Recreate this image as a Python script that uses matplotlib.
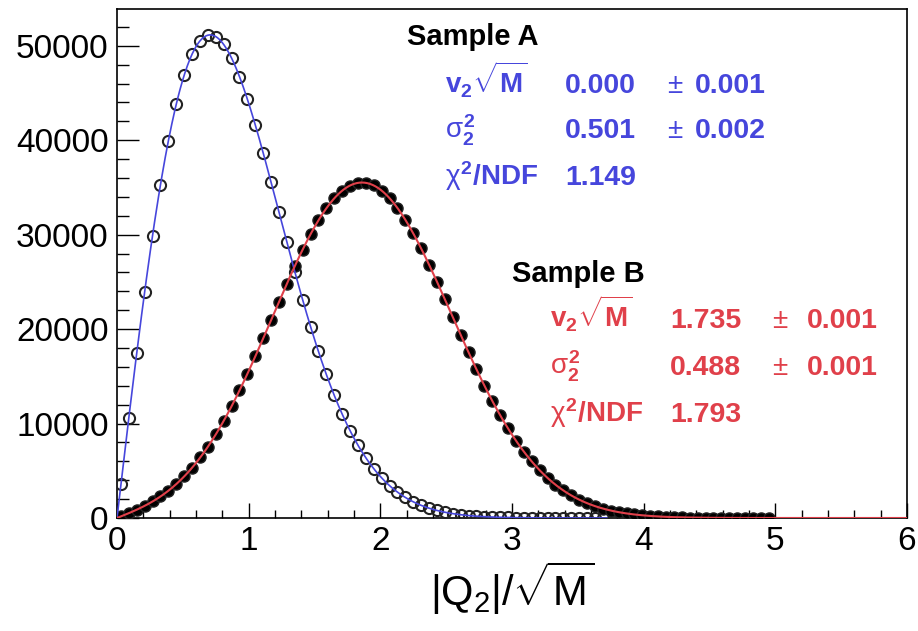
import numpy as np
import matplotlib
matplotlib.use("Agg")
import matplotlib.pyplot as plt
from matplotlib.ticker import MultipleLocator

plt.rcParams["font.family"] = ["Liberation Sans", "DejaVu Sans"]
plt.rcParams["mathtext.fontset"] = "custom"
plt.rcParams["mathtext.rm"] = "Liberation Sans"
plt.rcParams["mathtext.it"] = "Liberation Sans"
plt.rcParams["mathtext.bf"] = "Liberation Sans:bold"

# ---------------- data ----------------
bin_width = 0.06
counts_a = [3572, 10638, 17477, 23946, 29915, 35273, 39927, 43810, 46877, 49112,
            50519, 51127, 50980, 50147, 48707, 46747, 44360, 41634, 38674, 35564,
            32381, 29206, 26096, 23101, 20270, 17632, 15203, 12994, 11009, 9253,
            7713, 6374, 5226, 4249, 3429, 2744, 2177, 1714, 1340, 1038,
            799, 610, 462, 347, 259, 192, 141, 103, 74, 53,
            38, 27, 19, 13, 9, 6, 4, 3, 2, 1, 1, 1]
counts_b = [169, 514, 882, 1290, 1750, 2279, 2887, 3588, 4400, 5329,
            6408, 7557, 8877, 10307, 11838, 13512, 15257, 17105, 19016, 20935,
            22876, 24794, 26650, 28412, 30042, 31512, 32787, 33843, 34656, 35206,
            35483, 35486, 35211, 34666, 33864, 32827, 31573, 30136, 28543, 26826,
            25023, 23160, 21273, 19390, 17542, 15747, 14030, 12406, 10886, 9481,
            8195, 7031, 5985, 5058, 4241, 3530, 2916, 2390, 1945, 1571,
            1259, 1002, 791, 620, 482, 373, 285, 217, 164, 123,
            91, 67, 49, 36, 26, 19, 13, 9, 7, 5, 3, 2, 1]

# fit parameters (shown on the chart) and normalisations
fit_a = dict(norm=59700.0, v=0.000, s2=0.501, chi=1.149, ev=0.001, es2=0.002)
fit_b = dict(norm=59800.0, v=1.735, s2=0.488, chi=1.793, ev=0.001, es2=0.001)
fit_a_range = (0.0, 3.72)
fit_b_range = (0.0, 6.0)

x_ticks = [0, 1, 2, 3, 4, 5, 6]
y_ticks = [0, 10000, 20000, 30000, 40000, 50000]

blue = "#4646dc"
red = "#e0404a"


def bessel_gauss(q, norm, v, s2, **kw):
    return norm * q / s2 * np.exp(-(q ** 2 + v ** 2) / (2 * s2)) * np.i0(q * v / s2)


W, H = 918, 631
fig = plt.figure(figsize=(W / 100, H / 100), dpi=100)
ax = fig.add_axes([117 / W, 1 - 518 / H, (907 - 117) / W, (518 - 9) / H])

xa = (np.arange(len(counts_a)) + 0.5) * bin_width
xb = (np.arange(len(counts_b)) + 0.5) * bin_width

ax.plot(xa, counts_a, ls="none", marker="o", ms=8, mfc="none", mec="#222222",
        mew=1.5, zorder=3)
ax.plot(xb, counts_b, ls="none", marker="o", ms=8, mfc="black", mec="#222222",
        mew=1.0, zorder=3)

qa = np.linspace(*fit_a_range, 600)
qb = np.linspace(*fit_b_range, 900)
ax.plot(qa, bessel_gauss(qa, **fit_a), color=blue, lw=1.2, zorder=4)
ax.plot(qb, bessel_gauss(qb, **fit_b), color=red, lw=1.5, zorder=4)

ax.set_xlim(0, 6)
ax.set_ylim(0, 53900)
ax.set_xticks(x_ticks)
ax.set_yticks(y_ticks)
ax.set_xticklabels([str(t) for t in x_ticks])
ax.set_yticklabels([str(t) for t in y_ticks])
ax.xaxis.set_minor_locator(MultipleLocator(0.2))
ax.yaxis.set_minor_locator(MultipleLocator(2000))
ax.tick_params(axis="x", which="major", direction="in", length=11, width=1.0,
               labelsize=24, pad=6, top=False)
ax.tick_params(axis="x", which="minor", direction="in", length=5.5, width=1.0, top=False)
ax.tick_params(axis="y", which="major", direction="in", length=16, width=1.0,
               labelsize=24, pad=6, right=False)
ax.tick_params(axis="y", which="minor", direction="in", length=8.5, width=1.0, right=False)
for s in ax.spines.values():
    s.set_linewidth(1.2)

fig.text(512 / W, 1 - 606 / H, r"$|Q_2|/\sqrt{M}$", fontsize=30, ha="center",
         va="baseline")


def fx(px):
    return px / W


def fy(py):
    return 1 - py / H


def block(title, tx, ty, lx, vx, px, ex, rows_y, p, color):
    fig.text(fx(tx), fy(ty), title, fontsize=21, fontweight="bold", color="black",
             va="baseline", ha="left")
    labels = [r"$\mathbf{v}_{\mathbf{2}}\sqrt{\mathbf{M}}$",
              r"$\sigma_{\mathbf{2}}^{\mathbf{2}}$",
              r"$\chi^{\mathbf{2}}\mathbf{/NDF}$"]
    vals = [f"{p['v']:.3f}", f"{p['s2']:.3f}", f"{p['chi']:.3f}"]
    errs = [f"{p['ev']:.3f}", f"{p['es2']:.3f}", None]
    for lab, val, err, y in zip(labels, vals, errs, rows_y):
        fig.text(fx(lx), fy(y), lab, fontsize=20, color=color, va="baseline")
        fig.text(fx(vx), fy(y), val, fontsize=20.5, fontweight="bold", color=color,
                 va="baseline")
        if err is not None:
            fig.text(fx(px), fy(y), "±", fontsize=20, color=color, va="baseline")
            fig.text(fx(ex), fy(y), err, fontsize=20.5, fontweight="bold", color=color,
                     va="baseline")


block("Sample A", 407, 45, 445, 565, 667, 695, [93, 138, 185], fit_a, blue)
block("Sample B", 512, 282, 550, 670, 772, 807, [328, 375, 422], fit_b, red)

fig.savefig("out.png", dpi=100)
